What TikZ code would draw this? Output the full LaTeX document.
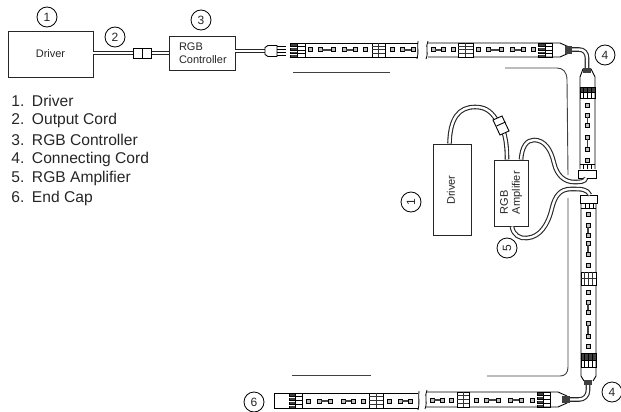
\documentclass[tikz,border=0pt]{standalone}
\usepackage{fontspec}
\setmainfont{Liberation Sans}
\tikzset{
 x=1pt,y=-1pt,
 every node/.style={inner sep=0pt,outer sep=0pt,text=black!85},
 boxnode/.style={draw=black!85,line width=0.9pt,fill=white,anchor=north west},
 callout/.style={draw=black,line width=0.8pt,circle,minimum size=20pt,font=\fontsize{12}{12}\selectfont,fill=white},
 leader/.style={draw=black!75,line width=0.9pt},
 cableout/.style={draw=black!85,line width=4.6pt},
 cablein/.style={draw=white,line width=2.4pt},
 listitem/.style={anchor=west,font=\fontsize{15.6}{16}\selectfont},
 boxtext/.style={font=\fontsize{11}{11}\selectfont},
}
\newcommand{\cablepath}[1]{\draw[cableout] #1; \draw[cablein] #1;}
\newcommand{\hsq}[2]{\draw[line width=1pt,draw=black,fill=black!25] (#1-2,#2-2) rectangle (#1+2,#2+2);}
\newcommand{\hlink}[3]{\hsq{#1}{#3}\hsq{#2}{#3}\draw[line width=1.4pt,black!75] (#1+2,#3) -- (#2-2,#3);}
\newcommand{\vlink}[3]{\hsq{#3}{#1}\hsq{#3}{#2}\draw[line width=1.4pt,black!75] (#3,#1+2) -- (#3,#2-2);}
\newcommand{\hblock}[4]{%
 \fill[black!75] (#1,#3) rectangle ({(#1+#2)/2},#4);
 \draw[line width=0.9pt] (#1,#3) rectangle (#2,#4);
 \foreach \k in {1,2,3}{\draw[line width=0.9pt,draw=black] (#1,{#3+\k*(#4-#3)/4}) -- (#2,{#3+\k*(#4-#3)/4});
  \draw[line width=0.7pt,draw=white] (#1,{#3+\k*(#4-#3)/4+1}) -- ({(#1+#2)/2},{#3+\k*(#4-#3)/4+1});}
 \draw[line width=0.9pt] ({(#1+#2)/2},#3) -- ({(#1+#2)/2},#4);
}
\newcommand{\hmid}[4]{%
 \draw[line width=0.8pt,fill=white] (#1,#3) rectangle (#2,#4);
 \foreach \k in {1,2,3}{\draw[line width=1pt,draw=black!80] (#1,{#3+\k*(#4-#3)/4}) -- (#2,{#3+\k*(#4-#3)/4});}
 \draw[line width=1pt,draw=black!80] ({(#1+#2)/2},#3) -- ({(#1+#2)/2},#4);
}
\newcommand{\vblock}[4]{%
 \fill[black!75] (#1,#3) rectangle (#2,{(#3+#4)/2});
 \draw[line width=0.8pt] (#1,#3) rectangle (#2,#4);
 \foreach \k in {1,2,3}{\draw[line width=0.9pt] ({#1+\k*(#2-#1)/4},#3) -- ({#1+\k*(#2-#1)/4},#4);}
 \draw[line width=0.9pt] (#1,{(#3+#4)/2}) -- (#2,{(#3+#4)/2});
}
\newcommand{\vmid}[4]{%
 \draw[line width=0.8pt,fill=white] (#1,#3) rectangle (#2,#4);
 \foreach \k in {1,2,3}{\draw[line width=1pt,draw=black!80] ({#1+\k*(#2-#1)/4},#3) -- ({#1+\k*(#2-#1)/4},#4);}
 \draw[line width=1pt,draw=black!80] (#1,{(#3+#4)/2}) -- (#2,{(#3+#4)/2});
}
\begin{document}
\begin{tikzpicture}
\useasboundingbox (0,0) rectangle (621,412);
\node[boxnode,minimum width=85pt,minimum height=46pt,boxtext] (drv1) at (8,31) {Driver};
\node[boxnode,minimum width=66pt,minimum height=34pt] (ctl) at (169,36) {};
\node[anchor=west,boxtext,align=left] (ctltxt) at (179,53) {RGB\\[2pt]Controller};
\node[callout] (c1) at (47,17) {1};
\node[callout] (c2) at (115,37) {2};
\node[callout] (c3) at (201,20) {3};
\coordinate (ca) at (drv1.east|-0,53);
\coordinate (cb) at (133,53);
\coordinate (cc) at (151,53);
\coordinate (cd) at (ctl.west|-0,53);
\coordinate (ce) at (ctl.east|-0,51);
\coordinate (cf) at (265,51);
\cablepath{(ca) -- (cb)}
\cablepath{(cc) -- (cd)}
\cablepath{(ce) -- (cf)}
\draw[line width=0.9pt,fill=white] (133,48) rectangle (151,58);
\draw[line width=0.9pt] (142,48) -- (142,58);
\draw[line width=0.9pt,fill=white] (265,47.5) -- (268,45.5) -- (277,45.5) -- (277,56.5) -- (268,56.5) -- (265,54.5) -- cycle;
\foreach \y in {46.5,49.5,52.5,55.5}{\draw[line width=1.3pt] (277,\y) -- (286,\y);}
\foreach \n/\t/\y in {1./Driver/101,2./Output Cord/120.4,3./RGB Controller/139.8,4./Connecting Cord/159.2,5./RGB Amplifier/178.6,6./End Cap/198}{
 \node[listitem] at (11.5,\y) {\makebox[20.5pt][l]{\n}\t};}
\draw[line width=0.9pt] (305,43) -- (418,43) (305,57) -- (418,57);
\hblock{290}{305}{43}{57}
\hsq{310}{50}\hlink{320}{333}{50}\hlink{344}{355}{50}\hsq{365}{50}
\hmid{372}{385}{43}{57}
\hsq{392}{50}\hlink{402}{413}{50}
\draw[line width=0.8pt] (418,41) .. controls (417,47) and (419,52) .. (417,59);
\draw[line width=0.8pt] (428,41) .. controls (425,47) and (429,52) .. (426,59);
\draw[line width=0.9pt] (428,43) -- (560,43) -- (569,47) -- (569,53) -- (560,57) -- (428,57);
\hlink{433}{443}{50}\hsq{453}{50}
\hmid{458}{473}{43}{57}
\hsq{478}{50}\hlink{488}{501}{50}\hlink{512}{523}{50}\hsq{533}{50}
\hblock{538}{552}{43}{57}
\fill[black!75] (565,46) rectangle (572,54);
\coordinate (t1) at (572,49.5);
\coordinate (t2) at (587,68);
\cablepath{(t1) -- (579,49.5) .. controls (584,49.5) and (587,53) .. (587,58) -- (t2)}
\draw[line width=0.9pt,fill=white] (580,169) -- (580,77) -- (583,69) -- (591,69) -- (595,77) -- (595,169);
\fill[black!75] (583,68) rectangle (591,73);
\vblock{580}{595}{87}{98}
\hsq{587.5}{105}\vlink{115}{125}{587.5}\vlink{137}{149}{587.5}\hsq{587.5}{160}
\draw[line width=0.9pt] (580,164)--(595,164) (583,164)--(583,169) (587,164)--(587,169) (591,164)--(591,169);
\draw[line width=0.9pt,fill=white] (578,170) rectangle (596,178);
\draw[line width=0.9pt,fill=white] (580,195) -- (597,195) -- (597,203) -- (580,203) -- cycle;
\draw[line width=0.9pt] (581,203) -- (581,376) -- (584,381) (596,203) -- (596,376) -- (593,381);
\draw[line width=0.9pt] (581,208)--(596,208) (585,203)--(585,208) (589,203)--(589,208) (593,203)--(593,208);
\hsq{588}{214}\vlink{225}{235}{588}\vlink{243}{254}{588}\hsq{588}{265}
\vmid{581}{596}{272}{285}
\hsq{588}{292}\vlink{302}{312}{588}\vlink{323}{336}{588}\hsq{588}{346}
\vblock{581}{596}{353}{367}
\fill[black!75] (584,380) rectangle (592,385);
\coordinate (b1) at (588,385);
\coordinate (b2) at (570,399.5);
\cablepath{(b1) -- (588,390) .. controls (588,396) and (584,399.5) .. (579,399.5) -- (b2)}
\draw[line width=0.8pt] (427,390) .. controls (424,396) and (428,401) .. (425,409);
\draw[line width=0.9pt] (426,392) -- (558,392) -- (567,396) -- (567,403) -- (558,407) -- (426,407);
\hlink{432}{442}{400}\hsq{451}{400}
\hmid{457}{469}{392}{407}
\hsq{476}{400}\hlink{486}{498}{400}\hlink{510}{521}{400}\hsq{532}{400}
\hblock{537}{550}{392}{407}
\fill[black!75] (562,396) rectangle (570,403);
\draw[line width=0.9pt] (418,393) -- (274,393) -- (274,408) -- (418,408);
\draw[line width=0.8pt] (419,391) .. controls (418,397) and (420,402) .. (418,410);
\hblock{289}{302}{393}{408}
\hsq{308}{401}\hlink{319}{330}{401}\hlink{343}{353}{401}\hsq{363}{401}
\hmid{369}{383}{393}{408}
\hsq{389}{401}\hlink{400}{410}{401}
\draw[leader] (293,72) -- (390,72);
\draw[leader] (505,68) -- (557,68) .. controls (563,68) and (567,72) .. (567,80) -- (568,175);
\draw[leader] (568,198) -- (568,367) .. controls (568,373) and (565,376) .. (560,376) -- (487,376);
\draw[leader] (292,375) -- (371,375);
\node[boxnode,minimum width=38pt,minimum height=91pt] (drv2) at (433,144) {};
\node[rotate=90,boxtext] (drv2t) at (451,190) {Driver};
\node[boxnode,minimum width=34pt,minimum height=66pt] (amp) at (494,160) {};
\node[rotate=90,anchor=west,boxtext] (ampa) at (504,214) {RGB};
\node[rotate=90,anchor=west,boxtext] (ampb) at (517,214) {Amplifier};
\node[callout] (c1b) at (411,202) {\rotatebox{90}{1}};
\node[callout] (c5) at (507,248) {\rotatebox{90}{5}};
\node[callout] (c4a) at (605,55) {4};
\node[callout] (c4b) at (612,392) {4};
\node[callout] (c6) at (254,402) {6};
\coordinate (d1) at (449.5,143.5);
\coordinate (d2) at (496,119);
\coordinate (d3) at (504,133);
\coordinate (d4) at (507,159.5);
\cablepath{(d1) .. controls (450,118) and (459,107) .. (475,107) .. controls (484,107) and (490,110) .. (d2)}
\cablepath{(d3) .. controls (506,140) and (507,148) .. (d4)}
\draw[line width=0.9pt,fill=white] (493,120) -- (502,116) -- (509,131) -- (500,135) -- cycle;
\draw[line width=0.9pt] (496.5,126) -- (505.5,122);
\coordinate (e1) at (521,159.5);
\coordinate (e2) at (586,178);
\cablepath{(e1) .. controls (522,146) and (527,140) .. (534,140) .. controls (545,140) and (551,150) .. (554,163) .. controls (557,176) and (565,182) .. (574,182) .. controls (580,182) and (585,182) .. (e2)}
\coordinate (f1) at (512,226.5);
\coordinate (f2) at (590,195);
\cablepath{(f1) .. controls (513,235) and (520,239) .. (527,238) .. controls (540,237) and (548,225) .. (552,208) .. controls (555,196) and (560,189) .. (571,189) .. controls (582,189) and (587,189) .. (f2)}
\end{tikzpicture}
\end{document}
